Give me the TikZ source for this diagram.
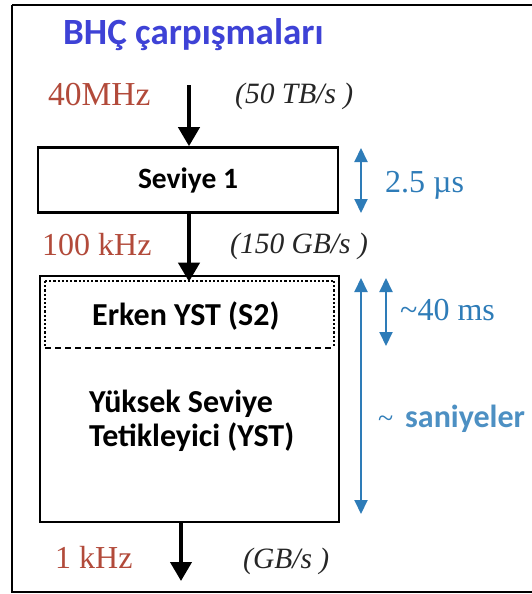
\documentclass[tikz,border=0pt]{standalone}
\usepackage{fontspec}
\setmainfont{Liberation Serif}
\newfontfamily\labelsans{Carlito}
\usetikzlibrary{arrows.meta}

\definecolor{titleblue}{RGB}{62,66,214}
\definecolor{ratered}{RGB}{178,74,58}
\definecolor{timeblue}{RGB}{46,124,184}

\newcommand{\swung}{\char"7E\relax}

\tikzset{
  txt/.style={inner sep=0pt, anchor=base west},
  boxtext/.style={font=\labelsans\bfseries\fontsize{32}{38}\selectfont, text=black},
  rate/.style={txt, font=\fontsize{32}{38}\selectfont, text=ratered},
  volume/.style={txt, font=\itshape\fontsize{29.5}{35}\selectfont, text=black!85},
  timing/.style={txt, font=\fontsize{32}{38}\selectfont, text=timeblue},
  flow/.style={line width=4pt, -{Triangle[length=19pt,width=21pt]}},
  span/.style={line width=2pt, draw=timeblue, {Triangle[length=14pt,width=13pt]}-{Triangle[length=14pt,width=13pt]}},
  stage/.style={draw=black, line width=2.6pt, fill=white, inner sep=0pt},
}

\begin{document}
\begin{tikzpicture}[x=1pt, y=-1pt]
  \useasboundingbox (0,0) rectangle (531,594);
  \fill[white] (0,0) rectangle (531,594);

  % outer frame (its right edge lies beyond the visible area)
  \draw[line width=2pt] (12,5) -- (545,5) (12,5) -- (12,592) -- (545,592);

  % title
  \node[txt, font=\labelsans\bfseries\fontsize{37}{44}\selectfont, text=titleblue]
    (title) at (63,45) {BHÇ çarpışmaları};

  % level 1 trigger
  \node[stage, minimum width=300pt, minimum height=65pt] (l1) at (188,180) {};
  \node[font=\labelsans\bfseries\fontsize{29.5}{35}\selectfont] (l1txt) at (l1.center) {Seviye 1};

  % high level trigger
  \node[stage, minimum width=299pt, minimum height=246pt] (hlt) at (189.5,399) {};
  \draw[line width=2.2pt, dotted] (45,281) -- (45,348) (334,281) -- (334,348) (45,281) -- (334,281);
  \coordinate (s2w) at (45,348);
  \coordinate (s2e) at (334,348);
  \draw[line width=2pt, dash pattern=on 6pt off 4pt] (s2w) -- (s2e);
  \node[txt, boxtext] (s2txt) at (92,325) {Erken YST (S2)};
  \node[txt, boxtext] (hltA) at (89,412) {Yüksek Seviye};
  \node[txt, boxtext] (hltB) at (89,446) {Tetikleyici (YST)};

  % data flow
  \coordinate (in) at (189,85);
  \coordinate (out) at (181,581);
  \draw[flow] (in) -- (l1.north -| in);
  \draw[flow] (l1.south -| in) -- ([yshift=-7pt]hlt.north -| in);
  \draw[flow] (hlt.south -| out) -- (out);

  % rates and bandwidths
  \node[rate, font=\fontsize{33.5}{40}\selectfont] (r40) at (48,105) {40MHz};
  \node[volume] (v50) at (235,103) {(50 TB/s )};
  \node[rate] (r100) at (42,255) {100 kHz};
  \node[volume] (v150) at (230,253) {(150 GB/s )};
  \node[rate] (r1) at (55,568) {1 kHz};
  \node[volume] (vgb) at (243,568) {(GB/s )};

  % latencies
  \coordinate (t1a) at (361,148);
  \coordinate (t1b) at (361,213);
  \draw[span] (t1a) -- (t1b);
  \node[timing] (t1) at (385,192) {2.5 µs};

  \coordinate (t2a) at (386,278);
  \coordinate (t2b) at (386,346);
  \draw[span] (t2a) -- (t2b);
  \node[timing] (t2) at (400,320) {\swung40 ms};

  \coordinate (t3a) at (361,278);
  \coordinate (t3b) at (361,514);
  \draw[span] (t3a) -- (t3b);
  \node[txt, text=timeblue, font=\fontsize{28}{34}\selectfont] (t3tilde) at (378,427) {\swung};
  \node[txt, text=timeblue!85!white, font=\labelsans\bfseries\fontsize{32}{38}\selectfont]
    (t3) at (405,427) {saniyeler};
\end{tikzpicture}
\end{document}
